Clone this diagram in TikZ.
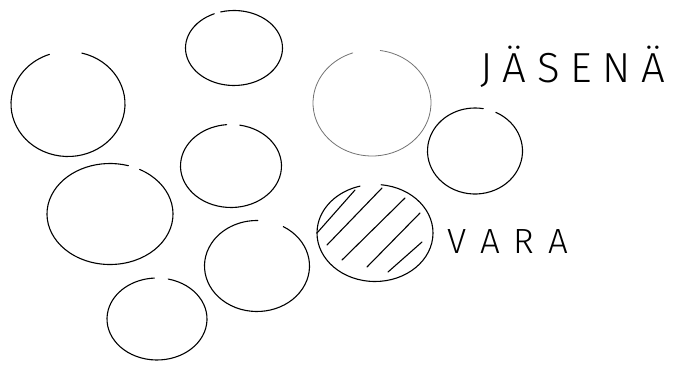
\documentclass[tikz,border=0pt]{standalone}
\usepackage{fontspec}
\setmainfont{Fira Sans Light}
\usetikzlibrary{shapes.geometric,positioning}
\tikzset{
	ring/.style={ellipse, inner sep=0pt},
	ringline/.style={line width=1.1pt, line cap=round},
	faintline/.style={line width=0.8pt, line cap=round, black!55},
	hatchline/.style={line width=1.1pt, line cap=round},
	handtext/.style={inner sep=0pt, font=\fontsize{#1}{#1}\selectfont}
}
% ring round a named node, open between two angles
\newcommand{\ringarc}[6][ringline]{%
	\draw[#1] ([shift={(#6:#3 and #4)}]#2.center)
		arc[start angle=#6, end angle=#5+360, x radius=#3, y radius=#4];}
\begin{document}
\begin{tikzpicture}[x=1pt, y=-1pt]
	\useasboundingbox (0,0) rectangle (685,366);
	\node[ring, minimum width=114pt, minimum height=105pt] (left) at (68,104) {};
	\node[ring, minimum width=97pt, minimum height=75pt] (top) at (234,48) {};
	\node[ring, minimum width=118pt, minimum height=106pt] (big) at (372,103) {};
	\node[ring, minimum width=95pt, minimum height=86pt] (right) at (475,151) {};
	\node[ring, minimum width=101pt, minimum height=83pt] (mid) at (231,166) {};
	\node[ring, minimum width=126pt, minimum height=101pt] (lowleft) at (110,214) {};
	\node[ring, minimum width=116pt, minimum height=97pt] (vara) at (375,233) {};
	\node[ring, minimum width=105pt, minimum height=91pt] (lowmid) at (257,266) {};
	\node[ring, minimum width=100pt, minimum height=82pt] (bottom) at (157,319) {};
	\ringarc{left}{57}{52.5}{-109}{-76}
	\ringarc{top}{48.5}{37.5}{-114}{-106}
	\ringarc[faintline]{big}{59}{53}{-109}{-82}
	\ringarc{right}{47.5}{43}{-80}{-64}
	\ringarc{mid}{50.5}{41.5}{-95}{-80}
	\ringarc{lowleft}{63}{50.5}{-73}{-62}
	\ringarc{vara}{58}{48.5}{-105}{-84}
	\ringarc{lowmid}{52.5}{45.5}{-89}{-60}
	\ringarc{bottom}{50}{41}{-93}{-77}
	% hatching of the spare one
	\begin{scope}[shift={(vara.center)}]
		\draw[hatchline] (-58,0) -- (-20,-43);
		\draw[hatchline] (-48,12) -- (7,-45);
		\draw[hatchline] (-33,27) -- (30,-35);
		\draw[hatchline] (-8,34) -- (45,-20);
		\draw[hatchline] (13,39) -- (47,9);
	\end{scope}
	\node[handtext=35, anchor=west, right=14pt of vara.east, yshift=-9pt] (varalabel)
		{\addfontfeature{LetterSpace=40}VARA};
	\node[handtext=42, anchor=base west] (memberlabel) at (480,83)
		{\addfontfeature{LetterSpace=25}JÄSENÄ};
\end{tikzpicture}
\end{document}
